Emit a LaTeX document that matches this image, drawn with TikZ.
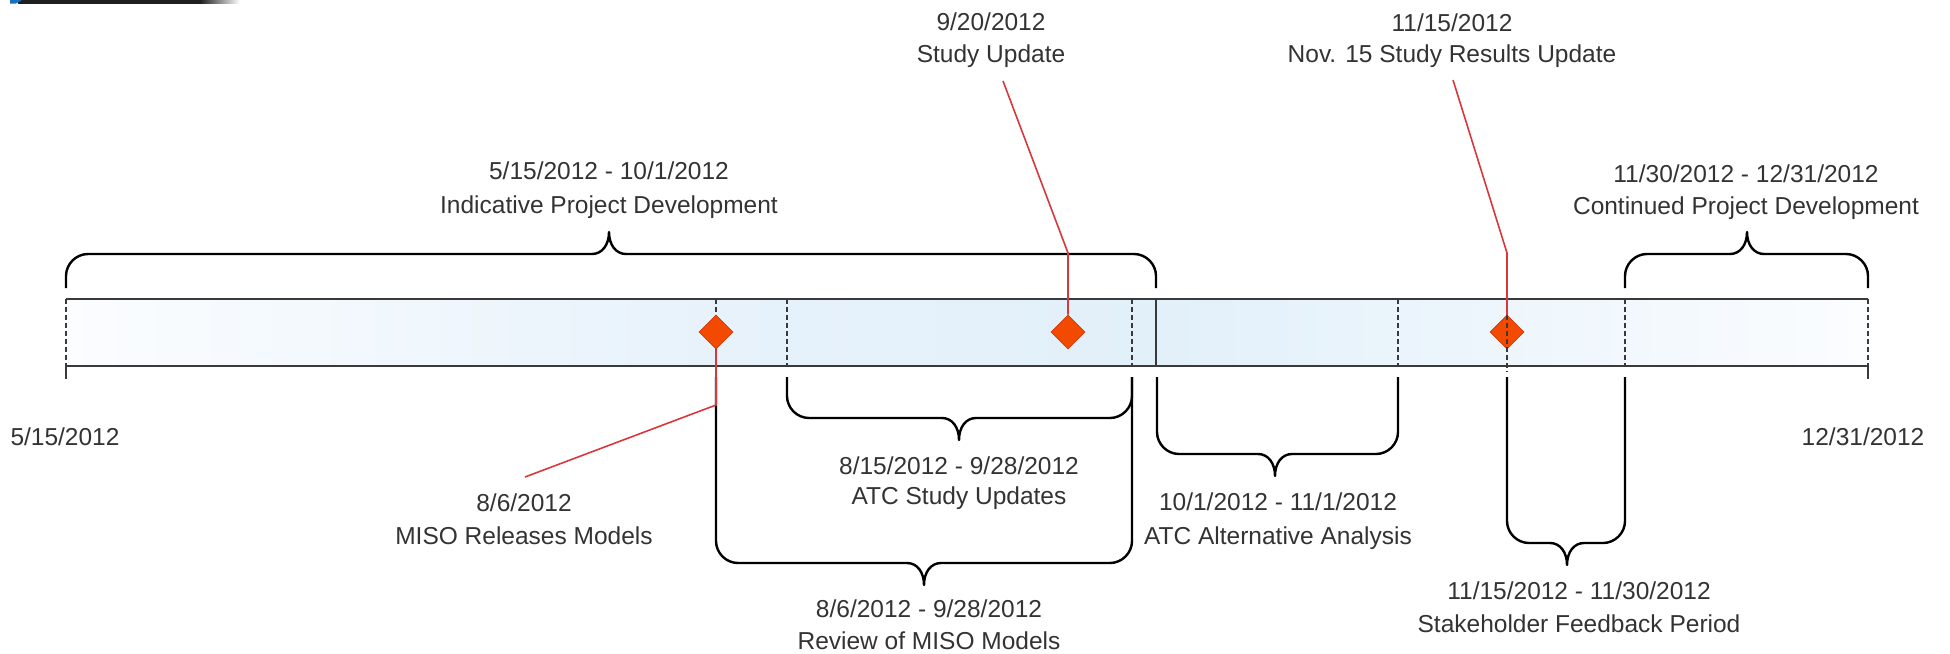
\documentclass[tikz,border=0pt]{standalone}
\usepackage{fontspec}
\setmainfont{Liberation Sans}
\usetikzlibrary{shapes.geometric}
\definecolor{txt}{HTML}{333333}
\definecolor{barline}{HTML}{3A3A3A}
\definecolor{redln}{HTML}{D8373C}
\definecolor{dfill}{HTML}{F24A00}
\definecolor{dline}{HTML}{D03C10}
\definecolor{bwhite}{HTML}{FBFDFF}
\definecolor{bblue}{HTML}{E2F0FA}
\definecolor{bmid}{HTML}{E7F2FB}
\definecolor{blight}{HTML}{F2F8FD}
\definecolor{hdrblue}{HTML}{1A6FC0}
\newcommand\tlbrace[6]{%
  \draw[bracestyle] (#1,#4) -- (#1,{#5-(#6)*22})
    .. controls (#1,{#5-(#6)*10}) and ({#1+10},#5) .. ({#1+22},#5)
    -- ({#3-17},#5)
    .. controls ({#3-7},#5) and (#3,{#5+(#6)*9}) .. (#3,{#5+(#6)*22})
    .. controls (#3,{#5+(#6)*9}) and ({#3+7},#5) .. ({#3+17},#5)
    -- ({#2-22},#5)
    .. controls ({#2-10},#5) and (#2,{#5-(#6)*10}) .. (#2,{#5-(#6)*22})
    -- (#2,#4);}
\tikzset{
  lbl/.style={text=txt, font=\fontsize{24.5}{29}\selectfont, inner sep=0pt, anchor=base},
  bracestyle/.style={draw=black, line width=2.4pt, line join=round},
  sepdash/.style={draw=barline, line width=1.6pt, dash pattern=on 5pt off 3pt},
  sepsolid/.style={draw=barline, line width=1.6pt},
  redline/.style={draw=redln, line width=1.6pt},
  milestone/.style={diamond, fill=dfill, draw=dline, line width=0.8pt, minimum size=34pt, inner sep=0pt},
}
\begin{document}
\begin{tikzpicture}[x=1pt,y=-1pt]
\useasboundingbox (0,0) rectangle (1950,653);
% header remnant
\fill[black!88] (18,0) rectangle (200,3.5);
\shade[left color=black!88, right color=white] (200,0) rectangle (240,3.5);
\fill[hdrblue] (10,0) -- (22,0) -- (16,3.5) -- (10,3.5) -- cycle;
% bar fill
\shade[left color=bwhite, right color=bmid] (66,299) rectangle (716,366);
\shade[left color=bmid, middle color=bblue, right color=bblue] (716,299) rectangle (1156,366);
\shade[left color=bblue, right color=blight] (1156,299) rectangle (1625,366);
\shade[left color=blight, right color=bwhite] (1625,299) rectangle (1868,366);
\draw[barline, line width=2pt] (66,299) -- (1868,299);
\draw[barline, line width=2pt] (66,366) -- (1868,366);
% separators
\draw[sepdash] (66,299) -- (66,366);
\draw[sepsolid] (66,366) -- (66,379);
\draw[sepdash] (716,299) -- (716,366);
\draw[sepdash] (787,299) -- (787,366);
\draw[sepdash, line width=2.2pt] (1132,299) -- (1132,366);
\draw[sepsolid] (1156,299) -- (1156,366);
\draw[sepdash] (1398,299) -- (1398,366);
\draw[sepdash] (1625,299) -- (1625,366);
\draw[sepdash] (1868,299) -- (1868,366);
\draw[sepsolid] (1868,366) -- (1868,379);
% braces
\tlbrace{66}{1156}{609}{288}{254}{-1}
\tlbrace{1625}{1868}{1747}{288}{254}{-1}
\tlbrace{787}{1132}{959}{377}{418}{1}
\tlbrace{716}{1132}{924}{377}{563}{1}
\tlbrace{1157}{1398}{1275}{377}{454}{1}
\tlbrace{1507}{1625}{1567}{377}{543}{1}
% milestones
\node[milestone] (m1) at (716,332) {};
\node[milestone] (m2) at (1068,332) {};
\node[milestone] (m3) at (1507,332) {};
\draw[sepdash] (1507,299) -- (1507,372);
\coordinate (m1bend) at (716,405);
\coordinate (m1end) at (525,477);
\coordinate (m2bend) at (1068,253);
\coordinate (m2end) at (1003,81);
\coordinate (m3bend) at (1507,253);
\coordinate (m3end) at (1453,80);
\draw[redline] (m1.south) -- (m1bend) -- (m1end);
\draw[redline] (m2.north) -- (m2bend) -- (m2end);
\draw[redline] (m3.north) -- (m3bend);
\draw[redline] (m3bend) -- (m3end);
% labels
\node[lbl] (ipdDate) at (609,179) {5/15/2012 - 10/1/2012};
\node[lbl] (ipdName) at (609,213) {Indicative Project Development};
\node[lbl] (suDate) at (991,30) {9/20/2012};
\node[lbl] (suName) at (991,62) {Study Update};
\node[lbl] (nsDate) at (1452,31) {11/15/2012};
\node[lbl] (nsName) at (1452,62) {Nov. 15 Study Results Update};
\node[lbl] (cpdDate) at (1746,182) {11/30/2012 - 12/31/2012};
\node[lbl] (cpdName) at (1746,214) {Continued Project Development};
\node[lbl] (startDate) at (65,445) {5/15/2012};
\node[lbl] (endDate) at (1863,445) {12/31/2012};
\node[lbl] (mrmDate) at (524,511) {8/6/2012};
\node[lbl] (mrmName) at (524,544) {MISO Releases Models};
\node[lbl] (asuDate) at (959,474) {8/15/2012 - 9/28/2012};
\node[lbl] (asuName) at (959,504) {ATC Study Updates};
\node[lbl] (aaaDate) at (1278,510) {10/1/2012 - 11/1/2012};
\node[lbl] (aaaName) at (1278,544) {ATC Alternative Analysis};
\node[lbl] (rmmDate) at (929,617) {8/6/2012 - 9/28/2012};
\node[lbl] (rmmName) at (929,649) {Review of MISO Models};
\node[lbl] (sfpDate) at (1579,599) {11/15/2012 - 11/30/2012};
\node[lbl] (sfpName) at (1579,632) {Stakeholder Feedback Period};
\end{tikzpicture}
\end{document}
